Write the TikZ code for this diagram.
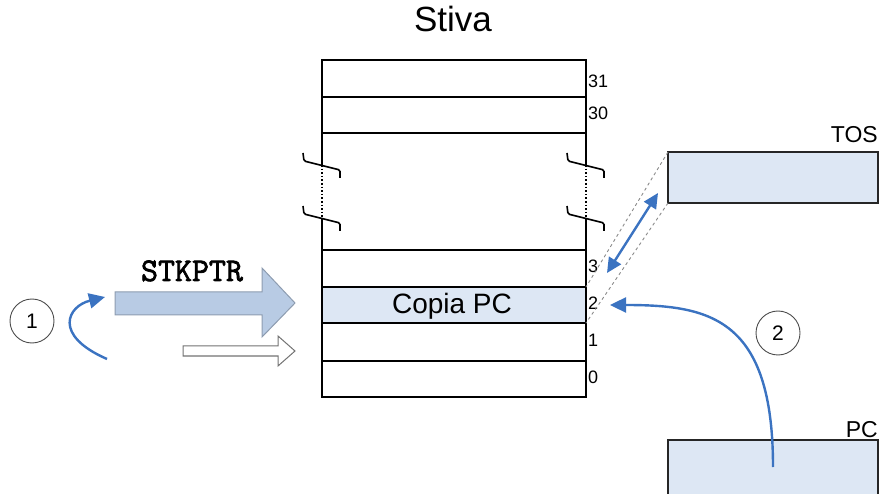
\documentclass[tikz,border=0pt]{standalone}
\usepackage{fontspec}
\setmainfont{Liberation Sans}
\newfontfamily\codefont{Latin Modern Mono}[FakeBold=2.2]
\usetikzlibrary{arrows.meta,calc}
\definecolor{cellfill}{HTML}{DDE7F4}
\definecolor{arrowfill}{HTML}{B8CBE4}
\definecolor{arrowedge}{HTML}{8D9CB0}
\definecolor{flowblue}{HTML}{3B73C1}
\definecolor{guide}{HTML}{8A8A8A}
\begin{document}
\begin{tikzpicture}[x=1pt,y=-1pt,
  cell/.style={draw=black,line width=1.6pt,minimum width=264pt,inner sep=0pt,outer sep=0pt,anchor=north west},
  regbox/.style={draw=black!85,line width=1.6pt,fill=cellfill,minimum width=210pt,inner sep=0pt,outer sep=0pt,anchor=north west},
  idx/.style={font=\fontsize{18}{18}\selectfont,anchor=base west,inner sep=0pt},
  tag/.style={font=\fontsize{23}{23}\selectfont,anchor=base east,inner sep=0pt},
  stepnum/.style={circle,draw=black!70,line width=0.9pt,minimum size=44pt,inner sep=0pt,font=\fontsize{21}{21}\selectfont},
  flow/.style={draw=flowblue,line width=2.4pt,-{Triangle[length=16pt,width=15pt]}},
  brk/.style={line width=1.6pt,rounded corners=1.5pt}
]
\useasboundingbox (0,0) rectangle (881,494);

% title
\node[font=\fontsize{35}{35}\selectfont,anchor=base,inner sep=0pt] (title) at (453,32) {Stiva};

% stack cells
\node[cell,minimum height=37pt] (r31) at (322,60) {};
\node[cell,minimum height=36pt] (r30) at (322,97) {};
\node[cell,minimum height=37pt] (r3) at (322,250) {};
\node[cell,minimum height=36pt,fill=cellfill] (r2) at (322,287) {};
\node[cell,minimum height=38pt] (r1) at (322,323) {};
\node[cell,minimum height=36pt] (r0) at (322,361) {};
\node[font=\fontsize{28}{28}\selectfont,anchor=base,inner sep=0pt] (copy) at (452,314) {Copia PC};

% elided part of the stack: walls with break marks
\coordinate (gl1) at (322,165); \coordinate (gl2) at (322,218);
\coordinate (gr1) at (586,165); \coordinate (gr2) at (586,218);
\draw[line width=1.6pt] (r30.south west) -- (gl1) (gl2) -- (r3.north west);
\draw[line width=1.6pt] (r30.south east) -- (gr1) (gr2) -- (r3.north east);
\draw[line width=1.6pt,dotted] (gl1) -- (gl2) (gr1) -- (gr2);
\foreach \c in {gl1,gl2,gr1,gr2}{
  \draw[brk] ($(\c)+(-19,-12)$) -- ($(\c)+(-18,-4)$) -- ($(\c)+(18,5)$) -- ($(\c)+(18,13)$);
}

% slot numbers
\node[idx] (n31) at (588,88) {31};
\node[idx] (n30) at (588,120) {30};
\node[idx] (n3) at (588,273) {3};
\node[idx] (n2) at (588,310) {2};
\node[idx] (n1) at (588,347) {1};
\node[idx] (n0) at (588,383) {0};

% registers
\node[regbox,minimum height=51pt] (tos) at (668,152) {};
\node[tag] (tosl) at (878,143) {TOS};
\node[regbox,minimum height=60pt] (pc) at (668,440) {};
\node[tag] (pcl) at (878,437) {PC};

% TOS mirrors the current slot
\draw[guide,dashed,line width=0.9pt] (tos.north west) -- (r2.north east);
\draw[guide,dashed,line width=0.9pt] (tos.south west) -- (r2.south east);
\coordinate (da) at (607,273); \coordinate (db) at (658,193);
\draw[draw=flowblue,line width=2.4pt,{Triangle[length=15pt,width=14pt]}-{Triangle[length=15pt,width=14pt]}] (da) -- (db);

% stack pointer arrows
\draw[draw=arrowedge,fill=arrowfill,line width=1pt,line join=miter]
  (115,292) -- (262,292) -- (262,268) -- (295,303) -- (262,337) -- (262,315) -- (115,315) -- cycle;
\node[font=\codefont\fontsize{33}{33}\selectfont,anchor=base,inner sep=0pt] (sp) at (192,281) {STKPTR};
\draw[draw=black!55,fill=white,line width=1pt,line join=miter]
  (183,346) -- (278,346) -- (278,336) -- (295,351) -- (278,366) -- (278,356) -- (183,356) -- cycle;

% step 1: pointer increment
\node[stepnum] (c1) at (32,321) {1};
\coordinate (s1a) at (107,359);
\coordinate (s1b) at (105,297);
\draw[flow] (s1a) .. controls (52,335) and (68,306) .. (s1b);

% step 2: PC pushed onto the stack
\node[stepnum] (c2) at (778,333) {2};
\coordinate (s2a) at (773,467);
\coordinate (s2b) at (610,305);
\draw[flow] (s2a) .. controls (773,318) and (710,305) .. (s2b);
\end{tikzpicture}
\end{document}
